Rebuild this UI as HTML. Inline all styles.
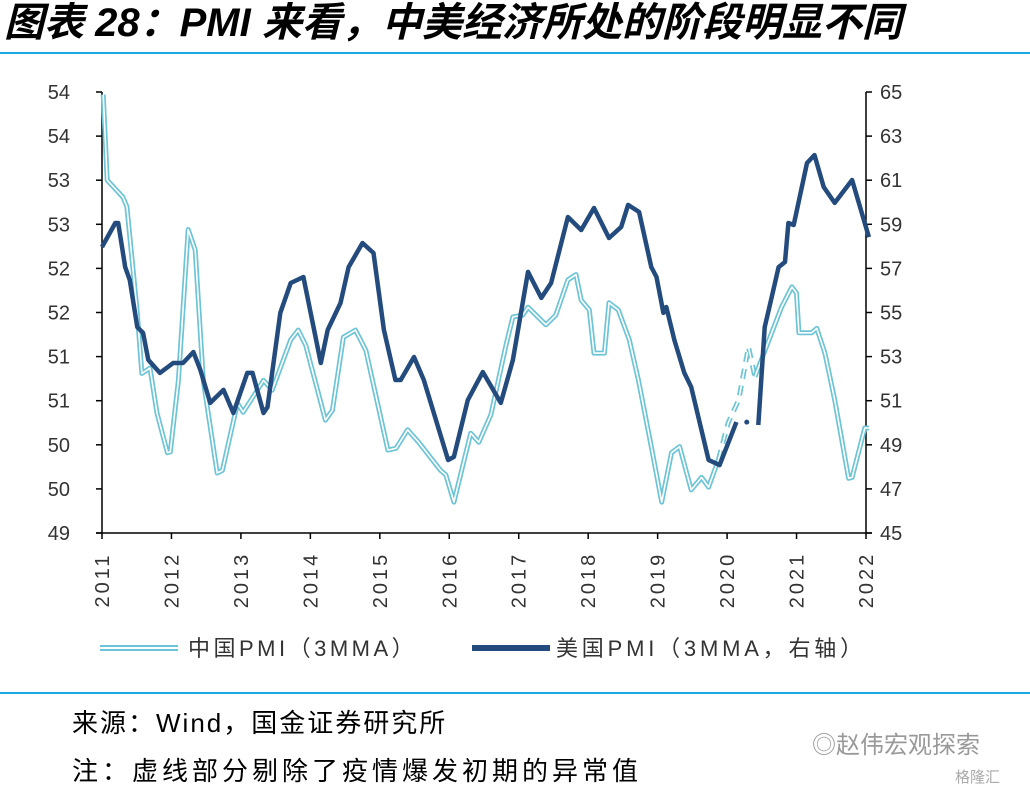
<!DOCTYPE html>
<html><head><meta charset="utf-8"><style>
body{margin:0;background:#fff;width:1030px;height:790px;overflow:hidden;font-family:"Liberation Sans","Noto Sans CJK SC",sans-serif}
</style></head><body>
<svg width="1030" height="790" viewBox="0 0 1030 790" xmlns="http://www.w3.org/2000/svg">
<text x="4" y="36" font-size="40" font-weight="bold" font-style="italic" fill="#000" font-family="'Liberation Sans','Noto Sans CJK SC',sans-serif">图表 28：PMI 来看，中美经济所处的阶段明显不同</text>
<line x1="0" y1="53" x2="1030" y2="53" stroke="#1aa9e0" stroke-width="2"/>
<g id="axes"></g>
<g id="series"></g>
<g>
<g>
<line x1="100" y1="648" x2="178" y2="648" stroke="#6cc4d6" stroke-width="6"/>
<line x1="100" y1="648" x2="178" y2="648" stroke="#fff" stroke-width="2"/>
<text x="188" y="656" font-size="22" fill="#333" letter-spacing="3.5">中国PMI（3MMA）</text></g>
<g>
<line x1="472" y1="648" x2="550" y2="648" stroke="#244b7d" stroke-width="6"/>
<text x="556" y="656" font-size="22" fill="#333" letter-spacing="3.8">美国PMI（3MMA，右轴）</text></g>
</g>
<line x1="0" y1="693" x2="1030" y2="693" stroke="#1aa9e0" stroke-width="2"/>
<text x="72" y="732" font-size="26" fill="#000" letter-spacing="2">来源：Wind，国金证券研究所</text>
<text x="72" y="780" font-size="26" fill="#000" letter-spacing="4">注：虚线部分剔除了疫情爆发初期的异常值</text>
<text x="812" y="753" font-size="24" fill="#999">◎赵伟宏观探索</text>
<text x="955" y="782" font-size="15" fill="#aaa">格隆汇</text>
</svg>
<script>
const leftTicks=["54","54","53","53","52","52","51","51","50","50","49"];
const leftTickVals=[54,53.5,53,52.5,52,51.5,51,50.5,50,49.5,49];
const rightTicks=[65,63,61,59,57,55,53,51,49,47,45];
const years=[2011,2012,2013,2014,2015,2016,2017,2018,2019,2020,2021,2022];
// months since Jan 2011
const cnMonths=[0.2,0.9,3.6,4.3,6.1,6.9,8.3,9.5,11.3,11.8,13.2,14.9,16.1,17.5,19.9,20.8,23.4,24.4,27.9,29.4,32.6,33.9,35.2,38.6,39.8,41.7,43.8,45.6,49.4,50.8,52.8,54.7,58.5,59.4,60.8,63.7,65.1,67.2,69.8,71.0,72.7,73.6,76.7,78.4,80.5,81.9,82.8,84.2,85.0,86.8,87.6,89.2,91.1,92.7,94.9,96.7,98.4,99.8,101.8,103.6,104.8,106.5,108.2,110.0,111.7,112.8,115.7,117.4,119.2,120.0,120.4,122.6,123.5,124.9,126.6,129.0,129.6,131.8,132.5];
const cnValues=[53.97,53.0,52.81,52.7,51.49,50.81,50.87,50.36,49.91,49.92,50.73,52.44,52.21,50.73,49.68,49.71,50.47,50.37,50.73,50.62,51.19,51.3,51.13,50.28,50.39,51.22,51.3,51.07,49.94,49.96,50.17,50.03,49.71,49.66,49.35,50.13,50.03,50.34,51.13,51.45,51.47,51.56,51.36,51.47,51.87,51.93,51.64,51.53,51.04,51.04,51.61,51.53,51.19,50.73,49.98,49.35,49.91,49.98,49.49,49.63,49.52,49.83,50.25,50.51,51.11,50.77,51.27,51.56,51.79,51.72,51.27,51.27,51.32,51.04,50.51,49.62,49.63,50.19,50.19];
const cnDashStart=2020.0, cnDashEnd=2020.55;
const usMonths=[0,2.3,2.8,4.0,4.8,6.1,7.1,8.0,10.0,12.3,14.0,15.8,17.0,18.7,21.0,22.7,25.1,26.0,27.9,28.6,30.8,32.6,34.8,37.8,39.0,41.2,42.6,45.0,46.9,48.7,50.7,51.6,53.9,55.6,59.8,60.8,63.2,65.8,68.9,71.0,73.6,75.9,77.6,80.5,82.8,85.0,87.6,89.7,90.9,92.8,94.9,95.8,97.0,97.5,98.9,100.6,101.8,104.8,106.7,109.6,110.5,111.4,112.4,113.4,114.5,115.7,116.9,118.0,118.6,119.5,121.8,123.1,124.7,126.6,129.6,132.5];
const usValues=[57.97,59.06,59.06,57.06,56.47,54.34,54.07,52.85,52.26,52.71,52.71,53.21,52.39,50.9,51.49,50.44,52.26,52.26,50.44,50.71,54.98,56.34,56.61,52.71,54.21,55.43,57.06,58.15,57.7,54.21,51.94,51.94,52.98,51.94,48.31,48.45,51.03,52.3,50.9,52.85,56.84,55.66,56.34,59.33,58.74,59.74,58.38,58.88,59.88,59.56,57.06,56.61,54.98,55.25,53.75,52.26,51.62,48.31,48.08,50.03,null,50.03,null,49.9,54.34,55.7,57.06,57.29,59.06,58.97,61.78,62.14,60.69,59.97,61.01,58.42];

const NS="http://www.w3.org/2000/svg";
const X0=102,X1=866,Y0=92,Y1=533;
const xm=m=>X0+(m/132)*(X1-X0);
const yl=v=>Y0+(54-v)/5*(Y1-Y0);
const yr=v=>Y0+(65-v)/20*(Y1-Y0);
function mk(tag,attrs,parent){const e=document.createElementNS(NS,tag);for(const k in attrs)e.setAttribute(k,attrs[k]);parent.appendChild(e);return e;}
const ax=document.getElementById('axes'), sg=document.getElementById('series');
let e;
e=mk('line',{x1:X0,y1:Y0,x2:X0,y2:Y1,stroke:'#000','stroke-width':1.5},ax);


e=mk('line',{x1:X1,y1:Y0,x2:X1,y2:Y1,stroke:'#000','stroke-width':1.5},ax);


e=mk('line',{x1:X0-6,y1:Y1,x2:X1+6,y2:Y1,stroke:'#000','stroke-width':1.5},ax);


leftTickVals.forEach((v,i)=>{const y=yl(v);
 mk('line',{x1:X0-6,y1:y,x2:X0,y2:y,stroke:'#000','stroke-width':1.5},ax);
 const t=mk('text',{x:X0-32,y:y+7,'font-size':20,fill:'#333','text-anchor':'end'},ax);t.textContent=leftTicks[i];
 
 });
rightTicks.forEach(v=>{const y=yr(v);
 mk('line',{x1:X1,y1:y,x2:X1+6,y2:y,stroke:'#000','stroke-width':1.5},ax);
 const t=mk('text',{x:X1+14,y:y+7,'font-size':20,fill:'#333'},ax);t.textContent=v;
 
 });
years.forEach(yv=>{const x=xm((yv-2011)*12);
 mk('line',{x1:x,y1:Y1,x2:x,y2:Y1+6,stroke:'#000','stroke-width':1.5},ax);
 const t=mk('text',{x:0,y:0,'font-size':20,fill:'#333','text-anchor':'middle',transform:`translate(${x+7},${580}) rotate(-90)`,'letter-spacing':'3'},ax);t.textContent=yv;
 
 });
function pts(ms,vs,f,a,b){const out=[];for(let i=a;i<=b;i++)out.push(xm(ms[i]).toFixed(1)+','+f(vs[i]).toFixed(1));return out.join(' ');}
let ds=cnMonths.findIndex(m=>m>=(cnDashStart-2011)*12)-1, de=cnMonths.findIndex(m=>m>=(cnDashEnd-2011)*12)-1;
function cnLine(a,b,dash,name){const g=mk('g',{},sg);
 
 
 const p=pts(cnMonths,cnValues,yl,a,b);
 const o={points:p,fill:'none','stroke-linejoin':'round'};
 mk('polyline',Object.assign({},o,{stroke:'#6cc4d6','stroke-width':5},dash?{'stroke-dasharray':'10 7'}:{}),g);
 mk('polyline',Object.assign({},o,{stroke:'#fff','stroke-width':1.6},dash?{'stroke-dasharray':'10 7'}:{}),g);}
cnLine(0,ds,false,'china-pmi-line');
cnLine(ds,de,true,'china-pmi-dashed');
cnLine(de,cnMonths.length-1,false,'china-pmi-line-2021');
let seg=[];const segs=[];usValues.forEach((v,i)=>{if(v===null){if(seg.length)segs.push(seg);seg=[];}else seg.push(i);});if(seg.length)segs.push(seg);
segs.forEach(s=>{
 if(s.length===1){const c=mk('circle',{cx:xm(usMonths[s[0]]),cy:yr(usValues[s[0]]),r:2.5,fill:'#244b7d'},sg);
  
  return;}
 const l=mk('polyline',{points:pts(usMonths,usValues,yr,s[0],s[s.length-1]),fill:'none',stroke:'#244b7d','stroke-width':4.5,'stroke-linejoin':'round'},sg);
 
 });
</script>
</body></html>
